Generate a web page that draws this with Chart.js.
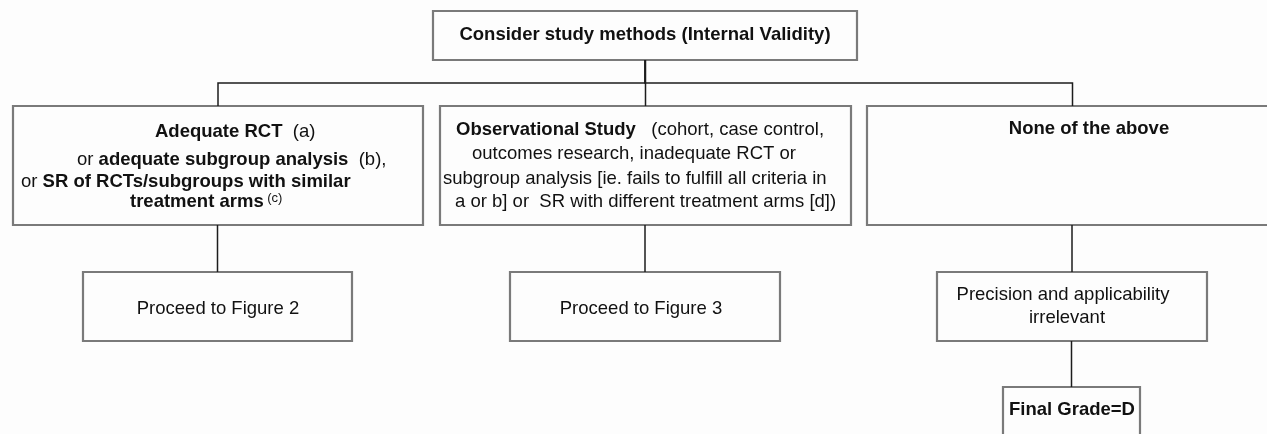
<!DOCTYPE html>
<html>
<head>
<meta charset="utf-8">
<title>Consider study methods</title>
<script src="https://cdn.jsdelivr.net/npm/chart.js@4.4.1/dist/chart.umd.min.js"></script>
<style>
    html, body { margin: 0; padding: 0; background: #fdfdfd; }
    #flow { display: block; }
</style>
</head>
<body>
<canvas id="flow" width="1267" height="434"></canvas>
<script>
// Node text: each line is a list of [text, style] runs (b = bold, n = normal, s = small raised)
const methodsText = [
    [['Consider study methods (Internal Validity)', 'b']]
];
const rctText = [
    [['Adequate RCT', 'b'], ['  (a)', 'n']],
    [['or ', 'n'], ['adequate subgroup analysis', 'b'], ['  (b),', 'n']],
    [['or ', 'n'], ['SR of RCTs/subgroups with similar', 'b']],
    [['treatment arms', 'b'], [' (c)', 's']]
];
const obsText = [
    [['Observational Study', 'b'], ['   (cohort, case control,', 'n']],
    [['outcomes research, inadequate RCT or', 'n']],
    [['subgroup analysis [ie. fails to fulfill all criteria in', 'n']],
    [['a or b] or  SR with different treatment arms [d])', 'n']]
];
const noneText = [
    [['None of the above', 'b']]
];
const fig2Text = [
    [['Proceed to Figure 2', 'n']]
];
const fig3Text = [
    [['Proceed to Figure 3', 'n']]
];
const precisionText = [
    [['Precision and applicability', 'n']],
    [['irrelevant', 'n']]
];
const gradeText = [
    [['Final Grade=D', 'b']]
];

const nodeIds = ['methods', 'rct', 'obs', 'none', 'fig2', 'fig3', 'precision', 'grade'];
const nodeText = {
    methods: methodsText, rct: rctText, obs: obsText, none: noneText,
    fig2: fig2Text, fig3: fig3Text, precision: precisionText, grade: gradeText
};

// parent -> child links
const edges = [
    ['methods', 'rct'],
    ['methods', 'obs'],
    ['methods', 'none'],
    ['rct', 'fig2'],
    ['obs', 'fig3'],
    ['none', 'precision'],
    ['precision', 'grade']
];

// ---- layout (in axis units, x 0..1267, y 0..434 top-down) ----
const boxes = {
    methods:   [433, 11, 857, 60],
    rct:       [13, 106, 423, 225],
    obs:       [440, 106, 851, 225],
    none:      [867, 106, 1278, 225],
    fig2:      [83, 272, 352, 341],
    fig3:      [510, 272, 780, 341],
    precision: [937, 272, 1207, 341],
    grade:     [1003, 387, 1140, 445]
};
const busY = { methods: 83 };
// per line: [align, x, y]
const textPos = {
    methods:   [['c', 645, 35]],
    rct:       [['l', 155, 132], ['l', 77, 160], ['l', 21, 182], ['l', 130, 202]],
    obs:       [['l', 456, 130], ['l', 472, 154], ['l', 443, 179], ['l', 455, 202]],
    none:      [['c', 1089, 129]],
    fig2:      [['c', 218, 309]],
    fig3:      [['c', 641, 309]],
    precision: [['c', 1063, 295], ['c', 1067, 318]],
    grade:     [['c', 1072, 410]]
};

const FONT = '"Liberation Sans", Arial, Helvetica, sans-serif';
const BOX_COLOR = '#7a7a7a';
const LINK_COLOR = '#1c1c1c';

function centerX(id) {
    const b = boxes[id];
    return (b[0] + b[2]) / 2;
}

function linkPoints(from, to) {
    const p = boxes[from];
    const c = boxes[to];
    let px = centerX(from);
    const cx = centerX(to);
    if (Math.abs(px - cx) < 3) px = cx;
    const mid = busY[from] !== undefined ? busY[from] : (p[3] + c[1]) / 2;
    return [
        { x: px, y: p[3] },
        { x: px, y: mid },
        { x: cx, y: mid },
        { x: cx, y: c[1] }
    ];
}

function boxPoints(id) {
    const b = boxes[id];
    return [
        { x: b[0], y: b[1] },
        { x: b[2], y: b[1] },
        { x: b[2], y: b[3] },
        { x: b[0], y: b[3] },
        { x: b[0], y: b[1] },
        { x: b[2], y: b[1] }
    ];
}

const datasets = [];
edges.forEach(e => {
    datasets.push({
        label: e[0] + '-' + e[1],
        data: linkPoints(e[0], e[1]),
        showLine: true,
        borderColor: LINK_COLOR,
        borderWidth: 1.5,
        pointRadius: 0,
        tension: 0
    });
});
nodeIds.forEach(id => {
    datasets.push({
        label: id,
        data: boxPoints(id),
        showLine: true,
        borderColor: BOX_COLOR,
        borderWidth: 2.2,
        pointRadius: 0,
        tension: 0,
        borderJoinStyle: 'miter',
        borderCapStyle: 'square'
    });
});

function runFont(style) {
    if (style === 'b') return 'bold 18.5px ' + FONT;
    if (style === 's') return '13px ' + FONT;
    return '18.5px ' + FONT;
}

// draws the node labels at axis positions
const labelPlugin = {
    id: 'nodeLabels',
    afterDatasetsDraw(chart) {
        const ctx = chart.ctx;
        const xs = chart.scales.x;
        const ys = chart.scales.y;
        ctx.save();
        ctx.fillStyle = '#111111';
        ctx.textBaseline = 'middle';
        ctx.textAlign = 'left';
        nodeIds.forEach(id => {
            const lines = nodeText[id];
            lines.forEach((runs, i) => {
                const pos = textPos[id][i];
                let total = 0;
                runs.forEach(r => {
                    ctx.font = runFont(r[1]);
                    total += ctx.measureText(r[0]).width;
                });
                let x = xs.getPixelForValue(pos[1]);
                const y = ys.getPixelForValue(pos[2]);
                if (pos[0] === 'c') x -= total / 2;
                runs.forEach(r => {
                    ctx.font = runFont(r[1]);
                    ctx.fillText(r[0], x, r[1] === 's' ? y - 4 : y);
                    x += ctx.measureText(r[0]).width;
                });
            });
        });
        ctx.restore();
    }
};

const flowChart = new Chart(document.getElementById('flow').getContext('2d'), {
    type: 'scatter',
    data: { datasets: datasets },
    options: {
        responsive: false,
        animation: false,
        events: [],
        layout: { padding: 0 },
        scales: {
            x: { type: 'linear', min: 0, max: 1267, display: false },
            y: { type: 'linear', min: 0, max: 434, reverse: true, display: false }
        },
        plugins: {
            legend: { display: false },
            tooltip: { enabled: false }
        }
    },
    plugins: [labelPlugin]
});
</script>
</body>
</html>
